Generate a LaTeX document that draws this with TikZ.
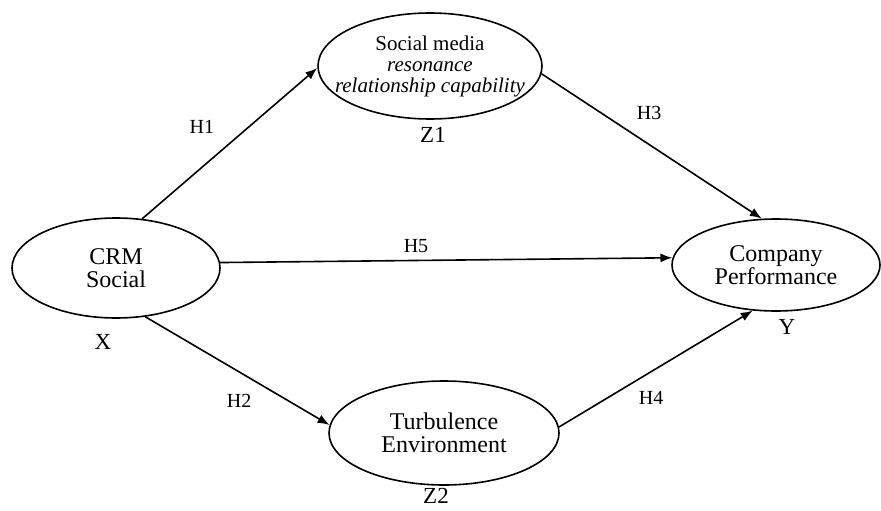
\documentclass[tikz,border=0pt]{standalone}
\usepackage{fontspec}
\setmainfont{Liberation Serif}
\usepackage{tikz}
\usetikzlibrary{arrows.meta,positioning,shapes.geometric}

\begin{document}
\begin{tikzpicture}[x=1pt,y=-1pt,line width=1.6pt,>={Latex[length=12pt,width=9pt]},
    var/.style={ellipse,draw,inner sep=0pt,align=center,font=\fontsize{24}{23}\selectfont},
    hyp/.style={font=\fontsize{20}{22}\selectfont,inner sep=0pt},
    tag/.style={font=\fontsize{23}{24}\selectfont,inner sep=0pt}]
  \useasboundingbox (0,0) rectangle (881,511);
  \node[var,minimum width=208pt,minimum height=100pt] (crm) at (116,268) {CRM\\Social};
  \node[var,minimum width=224pt,minimum height=106pt,inner xsep=-16pt,font=\fontsize{21}{21}\selectfont] (sm) at (430,66)
    {Social media\\\textit{resonance}\\\textit{relationship capability}};
  \node[var,minimum width=208pt,minimum height=92pt] (cp) at (776,265) {Company\\Performance};
  \node[var,minimum width=230pt,minimum height=104pt] (te) at (444,433) {Turbulence\\Environment};
  % variable tags
  \node[tag] (x) [below=15pt of crm,xshift=-13pt] {X};
  \node[tag] (y) [below=6.5pt of cp,xshift=11pt] {Y};
  \node[tag] (z1) [below=6.5pt of sm,xshift=3pt] {Z1};
  \node[tag] (z2) [below=2pt of te,xshift=-8pt] {Z2};
  % hypotheses
  \path[->] (crm.62) edge node[hyp,pos=.455,xshift=-20pt,yshift=23pt] {H1} (sm.181)
    (sm.-4) edge node[hyp,pos=.42,xshift=15pt,yshift=22pt] {H3} (cp.107)
    (crm.3) edge node[hyp,pos=.433,yshift=14pt] {H5} (cp.176)
    (crm.-59) edge node[hyp,pos=.58,xshift=-13pt,yshift=-21pt] {H2} (te.176)
    (te.3) edge node[hyp,pos=.413,xshift=12pt,yshift=-19pt] {H4} (cp.-117);
\end{tikzpicture}
\end{document}
